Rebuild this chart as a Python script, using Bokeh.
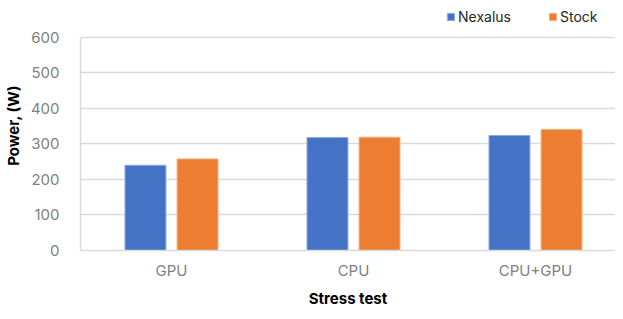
import numpy as np
from bokeh.plotting import figure
from bokeh.models import Range1d, FixedTicker, Legend, LegendItem, Title
from bokeh.embed import file_html
from bokeh.resources import INLINE

categories = ["GPU", "CPU", "CPU+GPU"]
nexalus = [240, 318, 324]
stock = [258, 319, 341]
y_ticks = [0, 100, 200, 300, 400, 500, 600]
series_names = ["Nexalus", "Stock"]

FONT = "Inter"
BLUE = "#4472C4"
ORANGE = "#ED7D31"

xs = np.arange(len(categories)) + 0.5
bar_w = 0.225
off = 0.143

# frame spans the legend strip too; the axis itself is bounded to 0..600
p = figure(width=615, height=311, output_backend="svg", toolbar_location=None,
           x_range=Range1d(0, 535 / 182), y_range=Range1d(0, 704),
           min_border_left=80, min_border_right=0, min_border_top=0, min_border_bottom=61)
p.outline_line_color = None

r1 = p.vbar(x=xs - off, top=nexalus, width=bar_w, fill_color=BLUE, line_color="#8fa9dc", line_width=1)
r2 = p.vbar(x=xs + off, top=stock, width=bar_w, fill_color=ORANGE, line_color="#f3b185", line_width=1)

p.xaxis.ticker = FixedTicker(ticks=list(xs))
p.xaxis.major_label_overrides = {float(x): c for x, c in zip(xs, categories)}
p.yaxis.ticker = FixedTicker(ticks=y_ticks)
p.yaxis.bounds = (y_ticks[0], y_ticks[-1])

for ax in (p.xaxis, p.yaxis):
    ax.major_tick_line_color = None
    ax.minor_tick_line_color = None
    ax.axis_line_color = "#d9d9d9"
    ax.axis_line_width = 1.5
    ax.major_label_text_font = FONT
    ax.major_label_text_font_size = "15px"
    ax.major_label_text_color = "#7f7f7f"

p.xaxis.major_label_standoff = 4
p.yaxis.major_label_standoff = 15
p.yaxis.axis_label = "Power, (W)"
p.yaxis.axis_label_text_font = FONT
p.yaxis.axis_label_text_font_style = "bold"
p.yaxis.axis_label_text_font_size = "15px"
p.yaxis.axis_label_text_color = "#000000"
p.yaxis.axis_label_standoff = 5

p.xgrid.grid_line_color = None
p.ygrid.grid_line_color = "#d9d9d9"
p.ygrid.grid_line_width = 1.5

t = Title(text="Stress test", align="center", offset=-37, text_font=FONT,
          text_font_size="15px", text_font_style="bold", text_color="#000000", standoff=8)
p.add_layout(t, "below")

legend = Legend(items=[LegendItem(label=series_names[0], renderers=[r1]),
                       LegendItem(label=series_names[1], renderers=[r2])],
                location=(366, 225), orientation="horizontal",
                glyph_width=9, glyph_height=9, label_standoff=3, spacing=37,
                label_text_font=FONT, label_text_font_size="14px", label_text_color="#262626",
                label_height=16, padding=0, margin=0, border_line_color=None,
                background_fill_alpha=0)
p.add_layout(legend, "center")

open("out.html", "w").write(file_html(p, INLINE))
